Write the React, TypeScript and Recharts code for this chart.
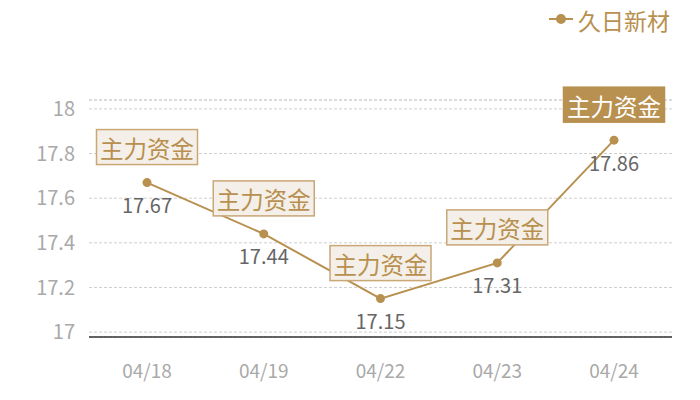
import { LineChart, Line, XAxis, YAxis, CartesianGrid, LabelList, ReferenceLine } from 'recharts';

const dates = ['04/18', '04/19', '04/22', '04/23', '04/24'];
const prices = [17.67, 17.44, 17.15, 17.31, 17.86];
const yTicks = [17, 17.2, 17.4, 17.6, 17.8, 18];
const yDomain = [16.978, 18.04];
const seriesName = '久日新材';
const boxText = '主力资金';

const GOLD = '#b8904f';
const FONT = '"Noto Sans CJK SC", "Noto Sans", sans-serif';

const chartData = dates.map((d, i) => ({ date: d, price: prices[i] }));

function ValueLabel(props: any) {
  const { x, y, value } = props;
  return (
    <text x={x} y={y + 22} textAnchor="middle" dominantBaseline="central" fill="#666666" fontSize={20} fontFamily={FONT}>
      {value}
    </text>
  );
}

function BoxLabel(props: any) {
  const { x, y, index } = props;
  const last = index === dates.length - 1;
  const w = 101;
  const h = 35;
  const top = y - 18 - h;
  return (
    <g>
      <rect
        x={x - w / 2}
        y={top}
        width={w}
        height={h}
        fill={last ? GOLD : '#f4efe8'}
        stroke={last ? GOLD : '#c9a777'}
        strokeWidth={1.5}
      />
      <text x={x} y={top + h / 2 + 1} textAnchor="middle" dominantBaseline="central" fill={last ? '#ffffff' : GOLD} fontSize={23.5} fontFamily={FONT}>
        {boxText}
      </text>
    </g>
  );
}

function SeriesLegend() {
  return (
    <svg width={150} height={40} style={{ position: 'absolute', left: 545, top: 0 }}>
      <line x1={4} y1={19} x2={28} y2={19} stroke={GOLD} strokeWidth={2} />
      <circle cx={16} cy={19} r={5} fill={GOLD} />
      <text x={33} y={20} dominantBaseline="central" fill={GOLD} fontSize={23} fontFamily={FONT}>
        {seriesName}
      </text>
    </svg>
  );
}

export default function App() {
  return (
    <div style={{ position: 'absolute', left: 0, top: 0, width: 700, height: 400, background: '#fff', fontFamily: FONT }}>
      <LineChart width={700} height={400} data={chartData} margin={{ top: 100, right: 28, left: 0, bottom: 0 }}>
        <CartesianGrid horizontal vertical={false} strokeDasharray="3 2" stroke="#cfcfcf" />
        <ReferenceLine y={yDomain[1]} stroke="#cfcfcf" strokeDasharray="3 2" />
        <XAxis
          dataKey="date"
          height={63}
          padding={{ left: 58, right: 58 }}
          tick={{ fill: '#a9a9a9', fontSize: 19, fontFamily: FONT }}
          tickLine={false}
          axisLine={{ stroke: '#333', strokeWidth: 1.5 }}
          tickMargin={22}
        />
        <YAxis
          type="number"
          domain={yDomain}
          ticks={yTicks}
          width={89}
          allowDataOverflow
          tick={{ fill: '#a9a9a9', fontSize: 20, fontFamily: FONT }}
          tickLine={false}
          axisLine={false}
          tickMargin={8}
        />
        <Line
          type="linear"
          dataKey="price"
          name={seriesName}
          stroke={GOLD}
          strokeWidth={2}
          dot={{ r: 4.5, fill: GOLD, stroke: 'none' }}
          activeDot={false}
          isAnimationActive={false}
        >
          <LabelList dataKey="price" content={<ValueLabel />} />
          <LabelList dataKey="price" content={<BoxLabel />} />
        </Line>
      </LineChart>
      <SeriesLegend />
    </div>
  );
}
